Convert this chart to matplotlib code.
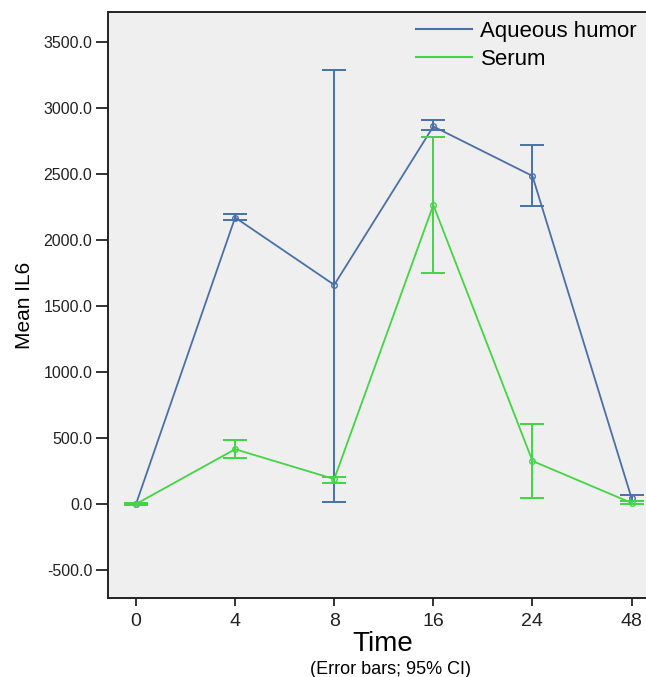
import matplotlib
matplotlib.use("Agg")
import matplotlib.pyplot as plt
from matplotlib.lines import Line2D
import numpy as np

plt.rcParams['font.family'] = ['Liberation Sans', 'DejaVu Sans']

times = ["0", "4", "8", "16", "24", "48"]
aq_mean = [0, 2170, 1660, 2860, 2485, 45]
aq_low = [0, 2150, 15, 2833, 2255, 23]
aq_high = [0, 2200, 3288, 2905, 2722, 68]
se_mean = [0, 415, 189, 2265, 326, 8]
se_low = [-10, 350, 161, 1752, 48, 0]
se_high = [10, 485, 207, 2778, 604, 22]

blue = '#4a70a8'
green = '#44d444'

fig = plt.figure(figsize=(6.46, 6.77), dpi=100)
ax = fig.add_axes([0.1676, 0.1167, 0.8324, 0.8656])
ax.set_facecolor('#efefef')
x = np.arange(len(times))

for mean, lo, hi, col in [(aq_mean, aq_low, aq_high, blue),
                          (se_mean, se_low, se_high, green)]:
    mean = np.array(mean); lo = np.array(lo); hi = np.array(hi)
    ax.plot(x, mean, color=col, lw=1.3, marker='o', ms=4, mfc='none', mec=col, mew=1)
    ax.errorbar(x, mean, yerr=[mean - lo, hi - mean], fmt='none', ecolor=col,
                elinewidth=1.4, capsize=8.5, capthick=1.4)

ax.set_xlim(-0.28, 5.146)
ax.set_ylim(-712, 3727)
ax.set_xticks(x)
ax.set_xticklabels(times, fontsize=14)
yt = np.arange(-500, 3501, 500)
ax.set_yticks(yt)
ax.set_yticklabels([f"{v:.1f}" for v in yt], fontsize=11.5)
ax.tick_params(axis='y', direction='out', length=8.5, width=1.3, colors='#222222', pad=3)
ax.tick_params(axis='x', direction='out', length=6, width=1.3, colors='#222222', pad=5, labelsize=14)
for s in ['left', 'bottom', 'top']:
    ax.spines[s].set_linewidth(1.4)
    ax.spines[s].set_color('#222222')
ax.spines['right'].set_visible(False)

ax.set_ylabel('Mean IL6', fontsize=15)
ax.yaxis.set_label_coords(-0.138, 0.5)
fig.text(0.593, (677 - 651) / 677, 'Time', ha='center', va='baseline', fontsize=20)
fig.text(0.605, 3 / 677, '(Error bars; 95% CI)', ha='center', va='baseline', fontsize=13)

handles = [Line2D([], [], color=blue, lw=1.5), Line2D([], [], color=green, lw=1.5)]
ax.legend(handles, ['Aqueous humor', 'Serum'], loc='upper right', bbox_to_anchor=(1.0, 1.0),
          frameon=False, fontsize=16, handlelength=2.5, borderaxespad=0.0,
          labelspacing=0.3, handletextpad=0.4)

fig.savefig('out.png', dpi=100, facecolor='white')
